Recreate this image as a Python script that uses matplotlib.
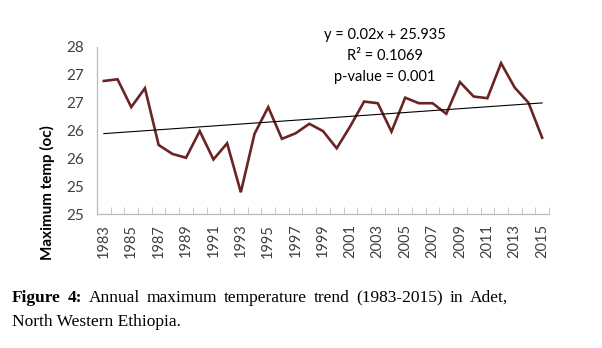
import numpy as np
import matplotlib
matplotlib.use("Agg")
import matplotlib.pyplot as plt

# Annual maximum temperature, Adet
years = list(range(1983, 2016))
tmax = [27.39, 27.42, 26.92, 27.26, 26.24, 26.08, 26.01, 26.49, 25.98, 26.27,
        25.39, 26.44, 26.92, 26.35, 26.45, 26.62, 26.49, 26.18, 26.58, 27.02,
        26.99, 26.48, 27.09, 26.99, 26.99, 26.80, 27.37, 27.11, 27.08, 27.71,
        27.27, 27.00, 26.37]
ytick_vals = [25, 25.5, 26, 26.5, 27, 27.5, 28]
ytick_labels = ["25", "25", "26", "26", "27", "27", "28"]
eq_lines = ["y = 0.02x + 25.935", "R\u00b2 = 0.1069", "p-value = 0.001"]
caption_bold = "Figure 4:"
caption_l1 = "Annual maximum temperature trend (1983-2015) in Adet,"
caption_l2 = "North Western Ethiopia."

line_col = "#6b2424"
sans = ["Lato", "DejaVu Sans"]

fig = plt.figure(figsize=(6.02, 3.48), dpi=100)
ax = fig.add_axes([97/602, 1-214/348, (549-97)/602, (214-47)/348])

x = np.arange(len(years))
ax.plot(x, tmax, color=line_col, lw=1.9, solid_joinstyle="miter")

# linear trend over the series index
k, b = np.polyfit(x + 1, tmax, 1)
ax.plot(x, k*(x + 1) + b, color="black", lw=0.8)

ax.set_xlim(-0.5, len(years) - 0.5)
ax.set_ylim(25, 28)
ax.set_yticks(ytick_vals)
ax.set_yticklabels(ytick_labels, family=sans, fontsize=11, color="#404040")
ax.tick_params(axis="y", length=0, pad=9)

ax.set_xticks(x[::2])
ax.set_xticklabels([str(y) for y in years[::2]], rotation=90, family=sans,
                   fontsize=10.5, color="#404040")
ax.set_xticks(np.arange(len(years) + 1) - 0.5, minor=True)
ax.tick_params(axis="x", which="major", length=0, pad=7)
ax.tick_params(axis="x", which="minor", direction="in", length=5, color="#bbbbbb")

for s in ["top", "right"]:
    ax.spines[s].set_visible(False)
for s in ["left", "bottom"]:
    ax.spines[s].set_color("#bbbbbb")
    ax.spines[s].set_linewidth(0.9)

fig.text(47/602, 1-193/348, "Maximum temp (oc)", rotation=90, ha="center",
         va="center", family=sans, fontsize=11, fontweight="bold")

for i, t in enumerate(eq_lines):
    fig.text(385/602, 1-(35 + 21*i)/348, t, ha="center", va="center",
             family=sans, fontsize=10.5)

# caption, first line justified between x=12 and x=508 px
serif = ["Liberation Serif", "DejaVu Serif"]
cfs = 12.5
fig.canvas.draw()
rend = fig.canvas.get_renderer()
words = [(w, "bold") for w in caption_bold.split()]
words += [(w, "normal") for w in caption_l1.split()]
arts = []
for w, wt in words:
    arts.append(fig.text(0, 1-298/348, w, family=serif, fontsize=cfs,
                         fontweight=wt, va="center", ha="left"))
widths = [a.get_window_extent(rend).width for a in arts]
gap = (508 - 12 - sum(widths)) / (len(arts) - 1)
xpos = 12
for a, wd in zip(arts, widths):
    a.set_x(xpos/602)
    xpos += wd + gap
fig.text(12/602, 1-322/348, caption_l2, family=serif, fontsize=cfs,
         va="center", ha="left")

fig.savefig("out.png", dpi=100)
